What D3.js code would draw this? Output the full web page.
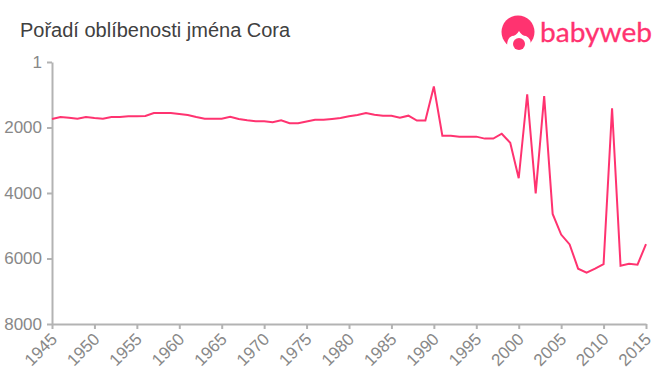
<!DOCTYPE html>
<html>
<head>
<meta charset="UTF-8">
<script src="https://d3js.org/d3.v7.min.js"></script>
<style>
  html, body { margin: 0; padding: 0; background: #fff; }
  text { font-family: "Liberation Sans", Arial, sans-serif; }
</style>
</head>
<body>
<div id="my_dataviz"></div>
<script>
  const titleText = "Pořadí oblíbenosti jména Cora";
  const years = d3.range(1945, 2016);
  const ranks = [
    1740, 1680, 1700, 1730, 1680, 1710, 1730, 1680, 1680, 1660,
    1655, 1650, 1560, 1560, 1560, 1590, 1620, 1680, 1730, 1730,
    1730, 1670, 1740, 1780, 1810, 1810, 1840, 1780, 1870, 1870,
    1820, 1765, 1765, 1740, 1710, 1660, 1620, 1560, 1610, 1640,
    1640, 1700, 1640, 1790, 1790, 750, 2250, 2250, 2280, 2280,
    2280, 2340, 2340, 2190, 2465, 3550, 985, 4010, 1040, 4640,
    5270, 5570, 6310, 6430, 6310, 6170, 1415, 6220, 6160, 6190,
    5560
  ];
  const yTicks = [1, 2000, 4000, 6000, 8000];
  const xTicks = d3.range(1945, 2016, 5);

  const pink = "#ff3370";
  const axisGrey = "#b3b3b3";
  const labelGrey = "#888888";

  const margin = {top: 62, right: 14, bottom: 51, left: 52},
        width = 660 - margin.left - margin.right,
        height = 375 - margin.top - margin.bottom;

  const root = d3.select("#my_dataviz")
    .append("svg")
    .attr("width", 660)
    .attr("height", 375)
    .style("display", "block");

  const svg = root.append("g")
    .attr("transform", `translate(${margin.left},${margin.top})`);

  const x = d3.scaleLinear().domain([1945, 2015]).range([0, width]);
  const y = d3.scaleLinear().domain([1, 8000]).range([0, height]);

  // Title
  root.append("text")
    .attr("x", 20)
    .attr("y", 37)
    .style("font-size", "20px")
    .style("fill", "#404040")
    .text(titleText);

  // Axes
  const xAxis = svg.append("g")
    .attr("transform", `translate(0,${height})`)
    .call(d3.axisBottom(x).tickValues(xTicks).tickFormat(d3.format("d")).tickSize(5).tickSizeOuter(0));

  xAxis.selectAll("text")
    .attr("text-anchor", "end")
    .attr("transform", "translate(1.5,12) rotate(-45)")
    .attr("x", 0)
    .attr("y", 0)
    .attr("dy", "0.35em")
    .style("font-size", "17px")
    .style("fill", labelGrey);

  const yAxis = svg.append("g")
    .call(d3.axisLeft(y).tickValues(yTicks).tickFormat(d3.format("d")).tickSize(5).tickSizeOuter(0));

  yAxis.selectAll("text")
    .attr("x", -10)
    .style("font-size", "17px")
    .style("fill", labelGrey);

  root.selectAll(".domain, .tick line")
    .attr("stroke", axisGrey)
    .attr("stroke-width", 2);

  // Line
  const line = d3.line()
    .x((d, i) => x(years[i]))
    .y(d => y(d));

  svg.append("path")
    .datum(ranks)
    .attr("fill", "none")
    .attr("stroke", pink)
    .attr("stroke-width", 2)
    .attr("stroke-linejoin", "miter")
    .attr("d", line);

  // Logo
  const logo = root.append("g");
  logo.append("circle").attr("cx", 518).attr("cy", 32).attr("r", 16.5).attr("fill", pink);
  logo.append("path")
    .attr("d", "M507 46 Q507 38 512 36 Q516 36 519 31 Q522 36 526 36 Q531 38 531 46 L531 50 L507 50 Z")
    .attr("fill", "#fff");
  logo.append("circle").attr("cx", 519).attr("cy", 44).attr("r", 6).attr("fill", pink);
  logo.append("text")
    .attr("x", 540)
    .attr("y", 42)
    .attr("textLength", 112)
    .attr("lengthAdjust", "spacingAndGlyphs")
    .style("font-family", "Lato, sans-serif")
    .style("font-size", "27px")
    .style("fill", pink)
    .style("stroke", pink)
    .style("stroke-width", 0.3)
    .text("babyweb");
</script>
</body>
</html>
